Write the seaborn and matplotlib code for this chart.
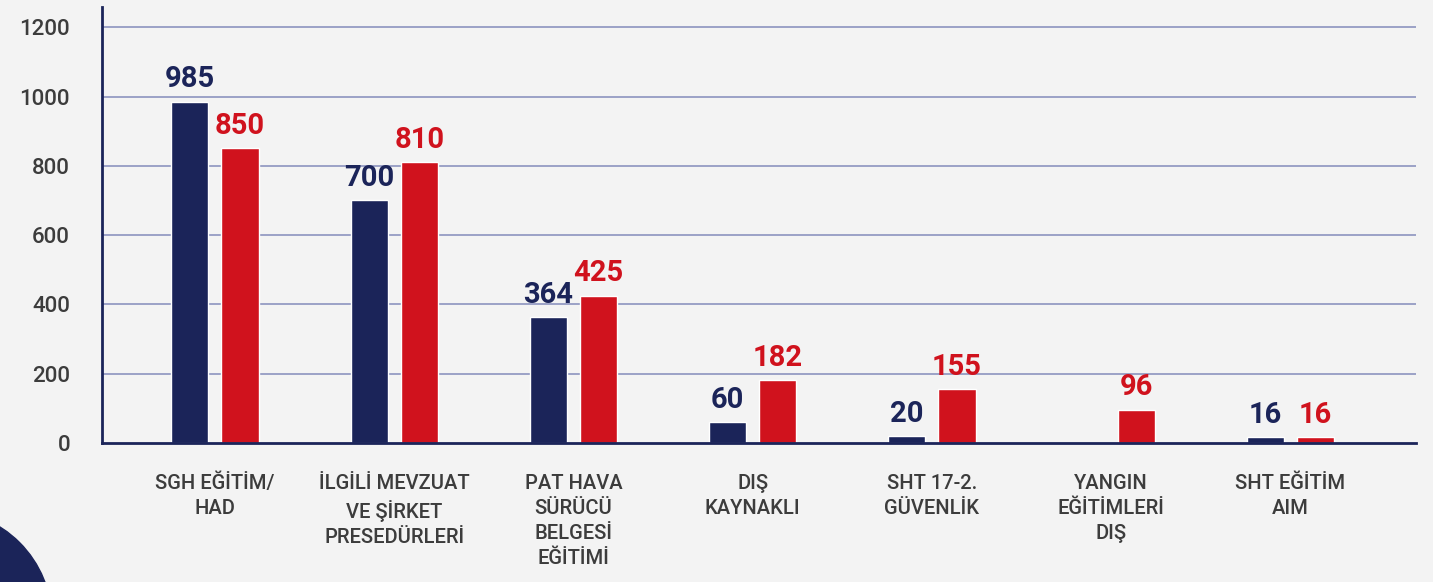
import pandas as pd
import numpy as np
import matplotlib.pyplot as plt
import seaborn as sns
from matplotlib.patches import Circle

# Chart data
categories = ["SGH EĞİTİM/\nHAD", "İLGİLİ MEVZUAT\nVE ŞİRKET\nPRESEDÜRLERİ",
              "PAT HAVA\nSÜRÜCÜ\nBELGESİ\nEĞİTİMİ", "DIŞ\nKAYNAKLI",
              "SHT 17-2.\nGÜVENLİK", "YANGIN\nEĞİTİMLERİ\nDIŞ", "SHT EĞİTİM\nAIM"]
series_names = ["A", "B"]
navy_values = [985, 700, 364, 60, 20, np.nan, 16]
red_values = [850, 810, 425, 182, 155, 96, 16]
y_ticks = [0, 200, 400, 600, 800, 1000, 1200]

NAVY = "#1b2459"
RED = "#d0121d"
BG = "#f3f3f3"

df = pd.DataFrame({
    "category": categories * 2,
    "series": [series_names[0]] * len(categories) + [series_names[1]] * len(categories),
    "value": navy_values + red_values,
})

sns.set_theme(style="white")
plt.rcParams["font.family"] = ["Roboto", "DejaVu Sans"]

fig = plt.figure(figsize=(14.33, 5.82), dpi=100, facecolor=BG)
ax = fig.add_axes([0.0712, 0.2388, 0.9168, 0.749])
ax.set_facecolor(BG)

sns.barplot(data=df, x="category", y="value", hue="series", order=categories,
            hue_order=series_names, palette=[NAVY, RED], width=0.56, gap=0.26,
            saturation=1, legend=False, ax=ax)

# value labels
for cont, color in zip(ax.containers, [NAVY, RED]):
    labels = ["" if np.isnan(v) else f"{int(v)}" for v in cont.datavalues]
    ax.bar_label(cont, labels=labels, padding=6, color=color,
                 fontsize=21, fontweight="bold")

ax.set_ylim(0, 1258)
ax.set_xlim(-0.63, 6.7)
ax.set_yticks(y_ticks)
ax.set_yticklabels([str(t) for t in y_ticks])
for t in y_ticks[1:]:
    ax.axhline(t, color="#9ba1c6", lw=1.4, zorder=0)

for side in ["top", "right"]:
    ax.spines[side].set_visible(False)
for side in ["left", "bottom"]:
    ax.spines[side].set_color(NAVY)
    ax.spines[side].set_linewidth(2)

ax.tick_params(axis="y", length=0, pad=23, labelsize=16, labelcolor="#3c3c3c")
ax.tick_params(axis="x", length=0, pad=22, labelsize=14.5, labelcolor="#3c3c3c")
for lbl in ax.get_xticklabels():
    lbl.set_linespacing(1.4)
    lbl.set_fontweight("medium")
for lbl in ax.get_yticklabels():
    lbl.set_fontweight("medium")
ax.set_xlabel("")
ax.set_ylabel("")

# decorative navy circle, bottom-left corner
fig.add_artist(Circle((-0.59, -0.39), 1.11, transform=fig.dpi_scale_trans,
                      color=NAVY, zorder=0))

fig.savefig("out.png", dpi=100, facecolor=BG)
